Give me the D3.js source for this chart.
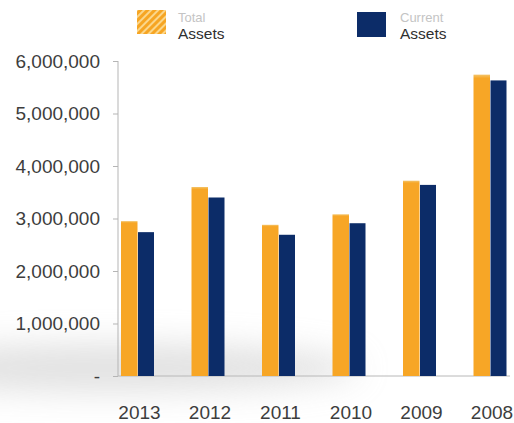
<!DOCTYPE html>
<html>
<head>
<meta charset="utf-8">
<script src="https://cdn.jsdelivr.net/npm/d3@7/dist/d3.min.js"></script>
<style>
  html, body { margin: 0; padding: 0; background: #fff; }
  svg { display: block; font-family: "Liberation Sans", Arial, Helvetica, sans-serif; }
</style>
</head>
<body>
<svg id="chart" width="514" height="423"></svg>
<script>
// Balance sheet totals by year
const years = ["2013", "2012", "2011", "2010", "2009", "2008"];
const totalAssets = [2950000, 3600000, 2880000, 3080000, 3720000, 5740000];
const currentAssets = [2740000, 3400000, 2690000, 2910000, 3640000, 5630000];
const yTicks = [0, 1000000, 2000000, 3000000, 4000000, 5000000, 6000000];
const seriesNames = [["Total", "Assets"], ["Current", "Assets"]];

const orange = "#f7a626";
const navy = "#0c2c68";

const svg = d3.select("#chart");
const defs = svg.append("defs");

// Soft grey floor shadow under the plot
const blur = defs.append("filter").attr("id", "haze")
  .attr("x", "-50%").attr("y", "-200%").attr("width", "200%").attr("height", "500%");
blur.append("feGaussianBlur").attr("stdDeviation", 16);

// Hatched swatch for the first series
const pat = defs.append("pattern").attr("id", "hatch")
  .attr("patternUnits", "userSpaceOnUse").attr("width", 5).attr("height", 5)
  .attr("patternTransform", "rotate(45)");
pat.append("rect").attr("width", 5).attr("height", 5).attr("fill", "#fbd68a");
pat.append("rect").attr("width", 3).attr("height", 5).attr("fill", "#f6a523");

// Light cap on top of the orange bars
const cap = defs.append("linearGradient").attr("id", "orangeCap")
  .attr("x1", 0).attr("y1", 0).attr("x2", 0).attr("y2", 1);
cap.append("stop").attr("offset", "0").attr("stop-color", "#f3c46a");
cap.append("stop").attr("offset", "0.012").attr("stop-color", orange);
cap.append("stop").attr("offset", "1").attr("stop-color", orange);

svg.append("ellipse")
  .attr("cx", 110).attr("cy", 368).attr("rx", 250).attr("ry", 24)
  .attr("fill", "#c9c9c9").attr("opacity", 0.55)
  .attr("filter", "url(#haze)");

const y = d3.scaleLinear().domain([0, 6000000]).range([376, 61]);
const x = d3.scalePoint().domain(years).range([137.5, 490]);
const barW = 16.5;

// Y axis
const yAxis = d3.axisLeft(y)
  .tickValues(yTicks)
  .tickSize(5)
  .tickPadding(13)
  .tickFormat(d => d === 0 ? "-" : d3.format(",")(d));
const gy = svg.append("g").attr("transform", "translate(118,0)").call(yAxis);
gy.select(".domain").attr("stroke", "#b5b5b5").attr("d", `M0,${y(6000000)}V${y(0)}`);
gy.selectAll(".tick line").attr("stroke", "#b5b5b5");
gy.selectAll(".tick text")
  .attr("fill", "#3d3d3d").attr("font-size", 19)
  .attr("font-family", "'Liberation Sans', Arial, sans-serif");

// X axis baseline
svg.append("line")
  .attr("x1", 118).attr("x2", 510)
  .attr("y1", y(0)).attr("y2", y(0))
  .attr("stroke", "#b8b8b8").attr("stroke-width", 1);

// Bars
const g = svg.append("g");
g.selectAll("rect.total").data(years).join("rect")
  .attr("class", "total")
  .attr("x", d => x(d) - barW)
  .attr("width", barW)
  .attr("y", (d, i) => y(totalAssets[i]))
  .attr("height", (d, i) => y(0) - y(totalAssets[i]))
  .attr("fill", "url(#orangeCap)");

g.selectAll("rect.current").data(years).join("rect")
  .attr("class", "current")
  .attr("x", d => x(d) + 0.5)
  .attr("width", barW - 0.5)
  .attr("y", (d, i) => y(currentAssets[i]))
  .attr("height", (d, i) => y(0) - y(currentAssets[i]))
  .attr("fill", navy);

// Year labels
svg.append("g").selectAll("text").data(years).join("text")
  .attr("x", d => x(d) + 2)
  .attr("y", 419)
  .attr("text-anchor", "middle")
  .attr("font-size", 19)
  .attr("fill", "#3d3d3d")
  .text(d => d);

// Legend
const legend = [
  { swatch: "url(#hatch)", sx: 137, sy: 10, sw: 29, sh: 24, tx: 178 },
  { swatch: navy, sx: 357, sy: 12, sw: 29, sh: 25, tx: 400 }
];
legend.forEach((l, i) => {
  svg.append("rect")
    .attr("x", l.sx).attr("y", l.sy).attr("width", l.sw).attr("height", l.sh)
    .attr("fill", l.swatch);
  svg.append("text")
    .attr("x", l.tx).attr("y", 22)
    .attr("font-size", 13).attr("fill", "#c4c4c4")
    .text(seriesNames[i][0]);
  svg.append("text")
    .attr("x", l.tx).attr("y", 38.5)
    .attr("font-size", 15.5).attr("fill", "#2f2f2f")
    .text(seriesNames[i][1]);
});
</script>
</body>
</html>
